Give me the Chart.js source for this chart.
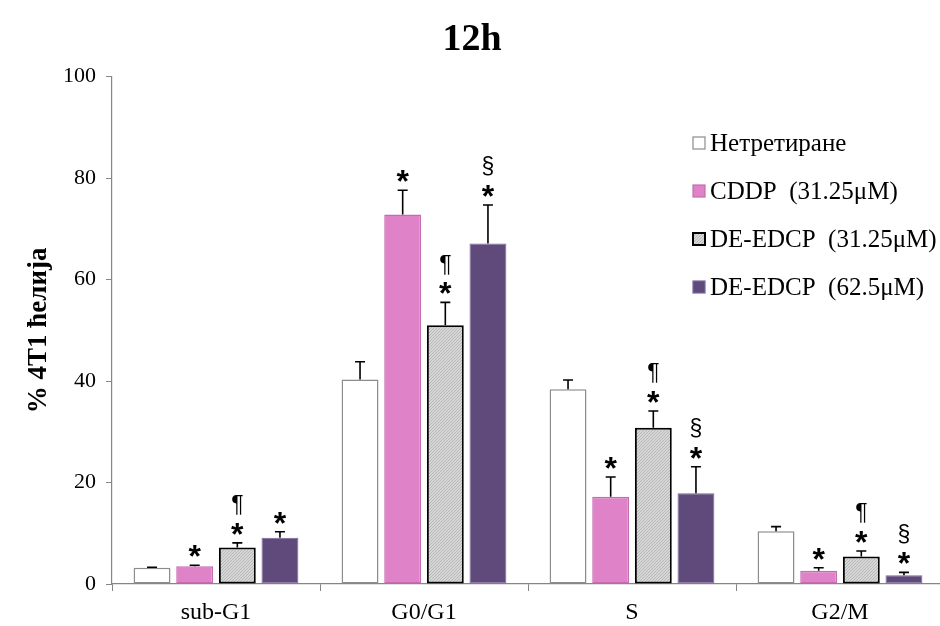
<!DOCTYPE html>
<html>
<head>
<meta charset="utf-8">
<script src="https://cdn.jsdelivr.net/npm/chart.js@4.4.1/dist/chart.umd.min.js"></script>
<style>
  html, body { margin: 0; padding: 0; background: #fff; overflow: hidden; }
  #wrap { width: 944px; height: 626px; position: relative; }
</style>
</head>
<body>
<div id="wrap"><canvas id="c"></canvas></div>
<script>
// ---- data ----
const categories = ['sub-G1', 'G0/G1', 'S', 'G2/M'];
const seriesNames = ['Нетретиране', 'CDDP  (31.25μM)', 'DE-EDCP  (31.25μM)', 'DE-EDCP  (62.5μM)'];
const untreated = [3.2, 40.3, 38.4, 10.4];
const untreatedErr = [0.1, 3.5, 1.8, 0.9];
const cddp = [3.5, 72.8, 17.2, 2.6];
const cddpErr = [0.2, 4.8, 3.9, 0.6];
const deLow = [7.2, 51.0, 30.8, 5.4];
const deLowErr = [0.9, 4.5, 3.3, 1.1];
const deHigh = [9.1, 67.1, 17.9, 1.7];
const deHighErr = [1.2, 7.6, 5.2, 0.6];
const yTicks = [0, 20, 40, 60, 80, 100];
// significance marks per series (rows) and category (columns)
const starMarks = [
  ['', '', '', ''],
  ['*', '*', '*', '*'],
  ['*', '*', '*', '*'],
  ['*', '*', '*', '*']
];
const extraMarks = [
  ['', '', '', ''],
  ['', '', '', ''],
  ['¶', '¶', '¶', '¶'],
  ['', '§', '§', '§']
];
const titleText = '12h';
const yTitle = '% 4T1 ћелија';

// ---- fine hatch pattern for grey series ----
function makeHatch() {
  const p = document.createElement('canvas');
  p.width = 3; p.height = 3;
  const g = p.getContext('2d');
  g.fillStyle = '#d6d6d6';
  g.fillRect(0, 0, 3, 3);
  g.fillStyle = '#b9b9b9';
  g.fillRect(0, 2, 1, 1);
  g.fillRect(1, 1, 1, 1);
  g.fillRect(2, 0, 1, 1);
  return document.getElementById('c').getContext('2d').createPattern(p, 'repeat');
}
const hatch = makeHatch();

const errors = [untreatedErr, cddpErr, deLowErr, deHighErr];

const errorBarPlugin = {
  id: 'errorBars',
  afterDatasetsDraw(chart) {
    const ctx = chart.ctx;
    const y = chart.scales.y;
    ctx.save();
    chart.data.datasets.forEach((ds, di) => {
      const meta = chart.getDatasetMeta(di);
      meta.data.forEach((bar, i) => {
        const v = ds.data[i];
        const e = errors[di][i];
        const yTop = y.getPixelForValue(v + e);
        ctx.strokeStyle = '#000';
        ctx.lineWidth = 1.6;
        ctx.beginPath();
        ctx.moveTo(bar.x, bar.y);
        ctx.lineTo(bar.x, yTop);
        ctx.moveTo(bar.x - 5, yTop);
        ctx.lineTo(bar.x + 5, yTop);
        ctx.stroke();
        // marks
        ctx.fillStyle = '#000';
        ctx.textAlign = 'center';
        ctx.textBaseline = 'middle';
        const star = starMarks[di][i];
        const starY = yTop - 13;
        if (star) {
          ctx.font = 'bold 32px "Liberation Sans", Arial, sans-serif';
          ctx.fillText(star, bar.x, starY + 6);
        }
        const ex = extraMarks[di][i];
        if (ex) {
          ctx.font = '23px "Liberation Sans", Arial, sans-serif';
          ctx.fillText(ex, bar.x, starY - 24);
        }
      });
    });
    ctx.restore();
  }
};

const legendPlugin = {
  id: 'customLegend',
  afterDraw(chart) {
    const ctx = chart.ctx;
    ctx.save();
    chart.data.datasets.forEach((ds, i) => {
      const cy = 143 + 48 * i;
      const bx = 693, size = 12;
      ctx.fillStyle = ds.backgroundColor;
      ctx.fillRect(bx, cy - size / 2, size, size);
      ctx.strokeStyle = ds.borderColor;
      ctx.lineWidth = i === 2 ? 2 : 1.2;
      ctx.strokeRect(bx, cy - size / 2, size, size);
      ctx.fillStyle = '#000';
      ctx.font = '25px "Liberation Serif", "Times New Roman", serif';
      ctx.textAlign = 'left';
      ctx.textBaseline = 'middle';
      ctx.fillText(ds.label, 710, cy + 1);
    });
    ctx.restore();
  }
};

new Chart(document.getElementById('c'), {
  type: 'bar',
  data: {
    labels: categories,
    datasets: [
      { label: seriesNames[0], data: untreated, backgroundColor: '#ffffff', borderColor: '#8c8c8c', borderWidth: 1.5 },
      { label: seriesNames[1], data: cddp, backgroundColor: '#df82c8', borderColor: '#c46cb0', borderWidth: 1.5 },
      { label: seriesNames[2], data: deLow, backgroundColor: hatch, borderColor: '#000000', borderWidth: 2 },
      { label: seriesNames[3], data: deHigh, backgroundColor: '#604a7b', borderColor: '#7a66a0', borderWidth: 1 }
    ]
  },
  options: {
    responsive: true,
    maintainAspectRatio: false,
    animation: false,
    layout: { padding: { left: 0, right: 0, top: 0, bottom: 0 } },
    datasets: {
      bar: { categoryPercentage: 0.82, barPercentage: 0.865, borderSkipped: false }
    },
    plugins: {
      legend: { display: false },
      tooltip: { enabled: false },
      title: {
        display: true,
        text: titleText,
        color: '#000',
        font: { family: '"Liberation Serif", "Times New Roman", serif', size: 38, weight: 'bold' },
        padding: { top: 17, bottom: 14 }
      }
    },
    scales: {
      x: {
        grid: { display: true, drawOnChartArea: false, drawTicks: true, tickLength: 7, color: '#868686', offset: true },
        border: { display: true, color: '#868686', width: 1.2 },
        ticks: {
          color: '#000',
          padding: 7,
          font: { family: '"Liberation Serif", "Times New Roman", serif', size: 24 }
        },
        afterFit(scale) { scale.height = 42; }
      },
      y: {
        min: 0, max: 100,
        afterBuildTicks(scale) { scale.ticks = yTicks.map(v => ({ value: v })); },
        grid: { display: true, drawOnChartArea: false, drawTicks: true, tickLength: 6, color: '#868686' },
        border: { display: true, color: '#868686', width: 1.2 },
        ticks: {
          color: '#000',
          padding: 10,
          font: { family: '"Liberation Serif", "Times New Roman", serif', size: 22 }
        },
        title: {
          display: true,
          text: yTitle,
          color: '#000',
          font: { family: '"Liberation Serif", "Times New Roman", serif', size: 27, weight: 'bold' },
          padding: { top: 23, bottom: 0 }
        },
        afterFit(scale) { scale.width = 112; }
      }
    }
  },
  plugins: [errorBarPlugin, legendPlugin]
});
</script>
</body>
</html>
